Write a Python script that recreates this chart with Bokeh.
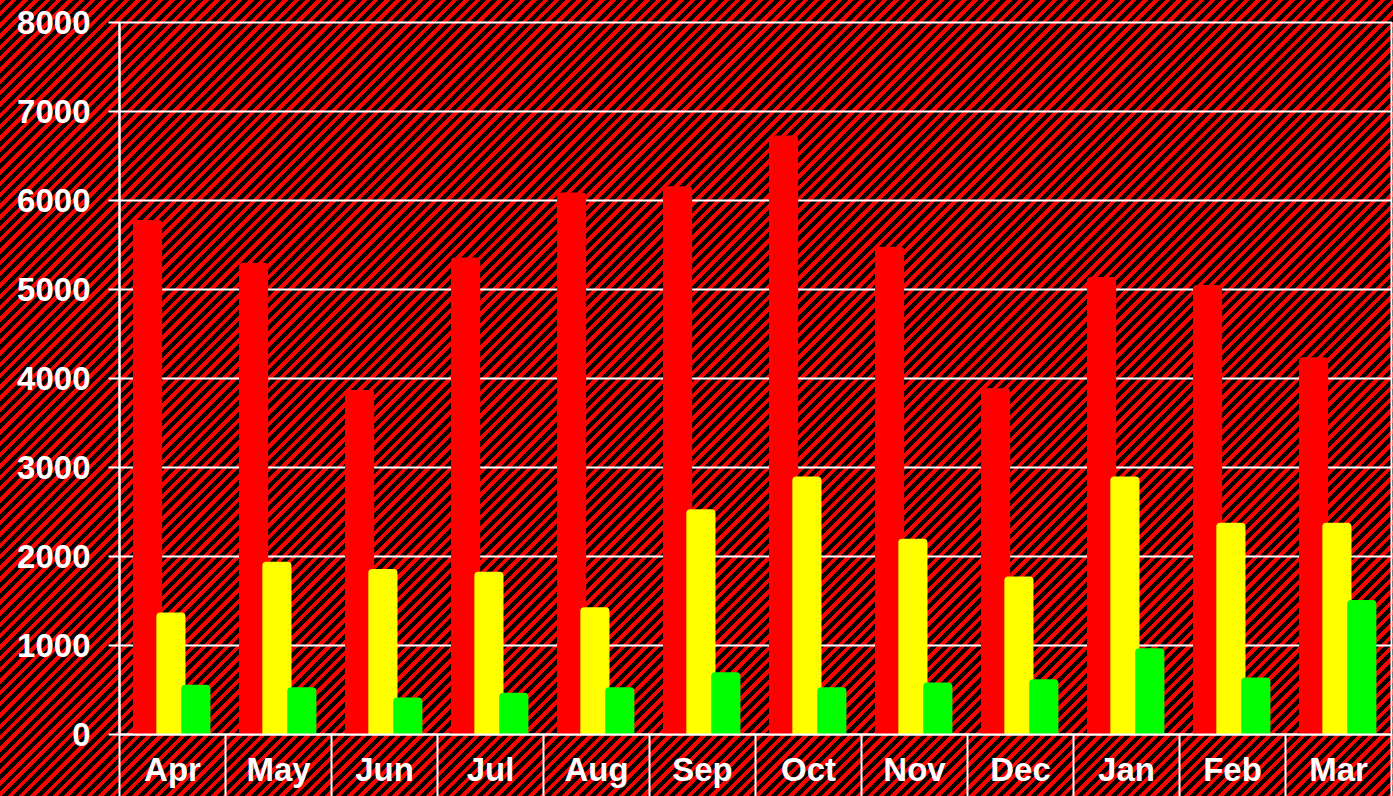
import numpy as np
from bokeh.plotting import figure
from bokeh.models import Range1d, FixedTicker
from bokeh.embed import file_html
from bokeh.resources import INLINE

months = ["Apr", "May", "Jun", "Jul", "Aug", "Sep", "Oct", "Nov", "Dec", "Jan", "Feb", "Mar"]
red_values = [5780, 5300, 3870, 5360, 6090, 6160, 6730, 5480, 3890, 5140, 5050, 4240]
yellow_values = [1370, 1940, 1860, 1830, 1430, 2530, 2900, 2200, 1775, 2900, 2380, 2380]
green_values = [560, 530, 415, 470, 530, 700, 530, 585, 620, 970, 640, 1510]
y_ticks = [0, 1000, 2000, 3000, 4000, 5000, 6000, 7000, 8000]

n = len(months)
centers = [i + 0.5 for i in range(n)]
boundaries = [float(i) for i in range(n + 1)]

stripes = ("repeating-linear-gradient(135deg, #ff0000 0px, #ff0000 3.8px, "
           "#000000 3.8px, #000000 8px)")

p = figure(width=1393, height=796, output_backend="svg", toolbar_location=None,
           x_range=Range1d(0, n), y_range=Range1d(0, 8000),
           min_border_left=119, min_border_right=2, min_border_top=22, min_border_bottom=62)
p.styles = {"position": "fixed", "top": "0px", "left": "0px", "background": stripes}
p.border_fill_color = None
p.background_fill_color = None
p.outline_line_color = "white"
p.outline_line_width = 2

font = "Liberation Sans"

# y axis
p.yaxis.ticker = FixedTicker(ticks=y_ticks)
p.yaxis.axis_line_color = "white"
p.yaxis.axis_line_width = 2
p.yaxis.major_tick_line_color = "white"
p.yaxis.major_tick_line_width = 2
p.yaxis.major_tick_in = 0
p.yaxis.major_tick_out = 11
p.yaxis.minor_tick_line_color = None
p.yaxis.major_label_text_color = "white"
p.yaxis.major_label_text_font = font
p.yaxis.major_label_text_font_style = "bold"
p.yaxis.major_label_text_font_size = "33px"
p.yaxis.major_label_standoff = 18

# x axis
p.xaxis.ticker = FixedTicker(ticks=centers, minor_ticks=boundaries)
p.xaxis.major_label_overrides = {c: m for c, m in zip(centers, months)}
p.xaxis.axis_line_color = "white"
p.xaxis.axis_line_width = 2
p.xaxis.major_tick_line_color = None
p.xaxis.major_tick_in = 0
p.xaxis.major_tick_out = 0
p.xaxis.minor_tick_line_color = "white"
p.xaxis.minor_tick_line_width = 2
p.xaxis.minor_tick_in = 0
p.xaxis.minor_tick_out = 62
p.xaxis.major_label_text_color = "white"
p.xaxis.major_label_text_font = font
p.xaxis.major_label_text_font_style = "bold"
p.xaxis.major_label_text_font_size = "33px"
p.xaxis.major_label_standoff = -46

p.xgrid.grid_line_color = None
p.ygrid.grid_line_color = "white"
p.ygrid.grid_line_width = 2
p.ygrid.grid_line_alpha = 1

bar_w = 0.275
x_red = [c - 0.235 for c in centers]
x_yellow = [c - 0.015 for c in centers]
x_green = [c + 0.22 for c in centers]

p.vbar(x=x_red, top=red_values, bottom=0, width=bar_w, fill_color="#ff0000",
       line_color=None, border_radius=(4, 4, 0, 0))
p.vbar(x=x_yellow, top=yellow_values, bottom=0, width=bar_w, fill_color="#ffff00",
       line_color=None, border_radius=(4, 4, 0, 0))
p.vbar(x=x_green, top=green_values, bottom=0, width=bar_w, fill_color="#00ff00",
       line_color=None, border_radius=(4, 4, 0, 0))

open("out.html", "w").write(file_html(p, INLINE))
